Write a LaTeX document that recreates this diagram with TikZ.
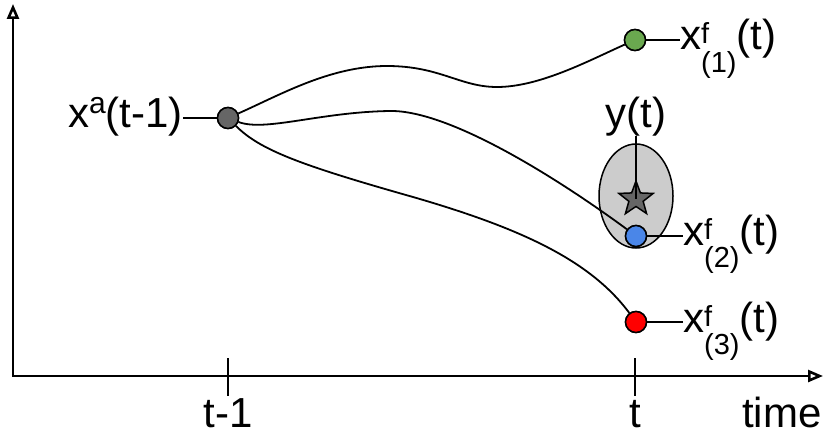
\documentclass[tikz,border=0pt]{standalone}
\usepackage{fontspec}
\setmainfont{Liberation Sans}
\usetikzlibrary{arrows.meta,shapes.geometric}
\definecolor{dotgray}{HTML}{666666}
\definecolor{dotgreen}{HTML}{6AA84F}
\definecolor{dotblue}{HTML}{4A86E8}
\definecolor{dotred}{HTML}{FF0000}
\definecolor{obsgray}{HTML}{CCCCCC}
\newcommand{\smallfs}{\fontsize{29}{29}\selectfont}
\newcommand{\xfc}[1]{x\rlap{\raisebox{6pt}{\smallfs f}}\raisebox{-22pt}{\smallfs(#1)}(t)}

\begin{document}
\begin{tikzpicture}[x=1pt, y=-1pt, >={Triangle[open,length=15pt,width=12pt]},
  lab/.style={inner sep=0pt, font=\fontsize{42}{48}\selectfont},
  dot/.style={circle, draw=black, line width=1.5pt, minimum size=21pt, inner sep=0pt},
  traj/.style={line width=1.8pt}]
\useasboundingbox (0,0) rectangle (829,436);
% axes
\coordinate (ytop) at (13,4);\coordinate (orig) at (13,376);\coordinate (xend) at (823,376);
\draw[line width=2.6pt, <->] (ytop) -- (orig) -- (xend);
\draw[line width=2.4pt] (228,358) -- (228,396);\draw[line width=2.4pt] (635,358) -- (635,396);
\node[lab, anchor=base] (tm1) at (228,427) {t-1};
\node[lab, anchor=base] (tt) at (635,427) {t};
\node[lab, anchor=base west] (tlab) at (742,427) {time};
% observation
\node[ellipse, draw=black, fill=obsgray, line width=1.5pt, minimum width=74pt, minimum height=104pt] (el) at (636,196) {};
% analysis and forecasts
\node[dot, fill=dotgray] (o) at (228,118) {};
\node[dot, fill=dotgreen] (g) at (635,40) {};
\node[dot, fill=dotblue] (b) at (636,236) {};
\node[dot, fill=dotred] (r) at (636,322) {};
\draw[traj] (o) .. controls (280,95) and (330,66) .. (387,66) .. controls (440,66) and (460,87) .. (497,87) .. controls (540,87) and (590,60) .. (g);
\draw[traj] (o) .. controls (265,132) and (320,112) .. (390,111) .. controls (450,110) and (560,180) .. (b);
\draw[traj] (o) .. controls (260,150) and (300,165) .. (413,197) .. controls (520,228) and (590,260) .. (r);
\node[dot, fill=dotgray] at (o) {};\node[dot, fill=dotgreen] at (g) {};
\node[dot, fill=dotblue] at (b) {};\node[dot, fill=dotred] at (r) {};
\node[star, star points=5, star point ratio=2.4, minimum size=36pt, inner sep=0pt, draw=black, line width=1.5pt, fill=dotgray] (st) at (636,199) {};
\node[lab, anchor=base] (yt) at (636,127) {y(t)};
\draw[line width=1.5pt] (yt.south) -- (st.center);
% labels
\node[lab, anchor=base east] (la) at (183,127) {x\raisebox{14pt}{\fontsize{30}{30}\selectfont a}(t-1)};
\node[lab, anchor=base west] (l1) at (680,50) {\xfc{1}};
\node[lab, anchor=base west] (l2) at (683,245) {\xfc{2}};
\node[lab, anchor=base west] (l3) at (683,332) {\xfc{3}};
\draw[traj] (o) -- (la.east |- o);
\draw[traj] (g) -- (l1.west |- g);
\draw[traj] (b) -- (l2.west |- b);
\draw[traj] (r) -- (l3.west |- r);
\end{tikzpicture}
\end{document}
